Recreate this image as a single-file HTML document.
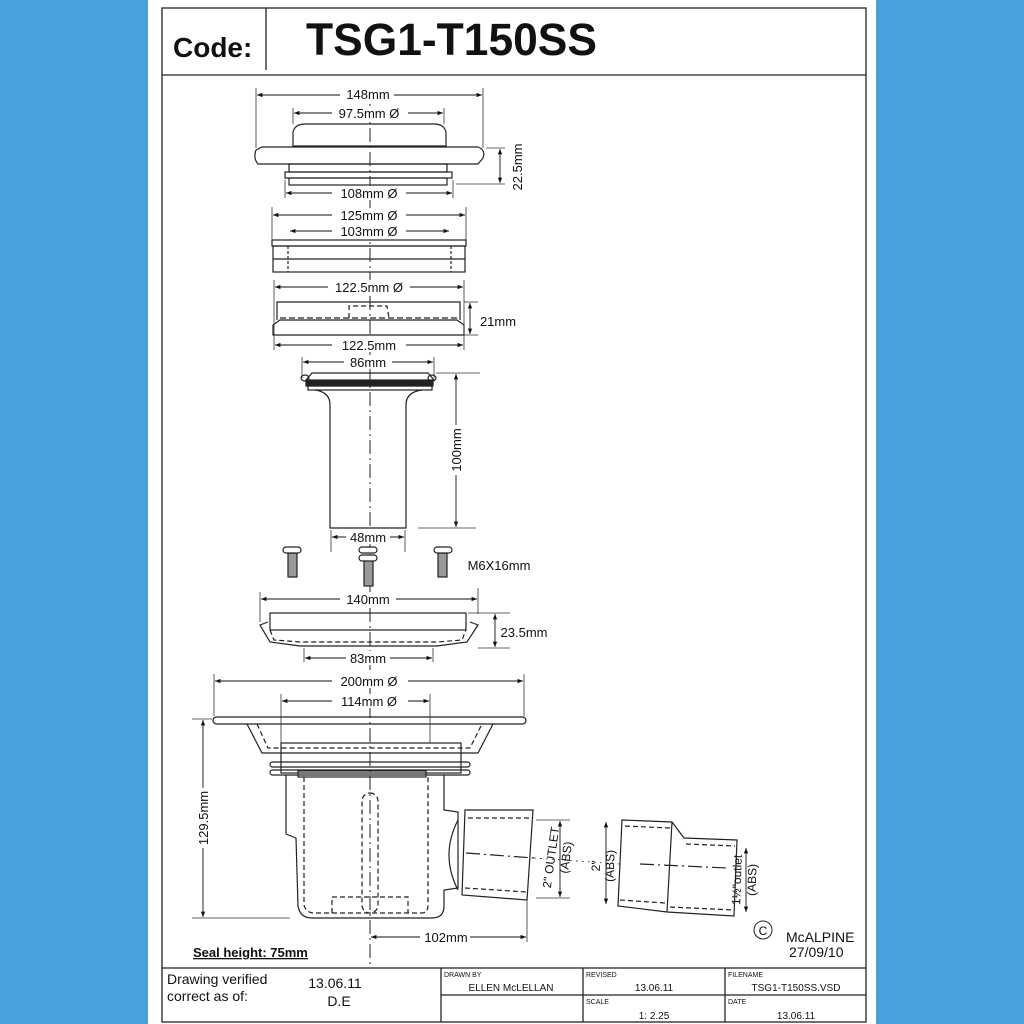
<!DOCTYPE html>
<html><head><meta charset="utf-8"><style>
html,body{margin:0;padding:0;background:#4aa0dc;}
svg{display:block}
text{font-family:"Liberation Sans",Arial,sans-serif;fill:#111}
</style></head><body>
<svg width="1024" height="1024" viewBox="0 0 1024 1024" xmlns="http://www.w3.org/2000/svg">
<defs>
<marker id="a" viewBox="0 0 10 10" refX="10" refY="5" markerWidth="9" markerHeight="6" orient="auto-start-reverse"><path d="M0,1 L10,5 L0,9z" fill="#111"/></marker>
</defs>
<rect x="0" y="0" width="1024" height="1024" fill="#4aa0dc"/>
<rect x="148" y="0" width="728" height="1024" fill="#fff"/>
<g fill="none" stroke="#222" stroke-width="1.3">
<rect x="162" y="8" width="704" height="1014"/>
<line x1="162" y1="75" x2="866" y2="75"/>
<line x1="266" y1="8" x2="266" y2="70"/>
<line x1="162" y1="968" x2="866" y2="968"/>
<line x1="441" y1="968" x2="441" y2="1022"/>
<line x1="583" y1="968" x2="583" y2="1022"/>
<line x1="725" y1="968" x2="725" y2="1022"/>
<line x1="441" y1="995" x2="866" y2="995"/>
</g>
<text x="173" y="57" font-size="28" font-weight="bold">Code:</text>
<text x="306" y="55" font-size="45" font-weight="bold" textLength="291" lengthAdjust="spacingAndGlyphs">TSG1-T150SS</text>

<line x1="370" y1="104" x2="370" y2="965" stroke="#222" stroke-width="1" stroke-dasharray="14,4,2,4"/>

<g fill="none" stroke="#222" stroke-width="1.2">
<path d="M293,146 L293,132 Q295,124 305,124 L434,124 Q444,124 446,132 L446,146 Z"/>
<path d="M258,164 Q253,158 256,150 L262,147 L478,147 Q486,150 483,158 L478,164 Z"/>
<rect x="289" y="164" width="158" height="8"/>
<rect x="285" y="172" width="167" height="6"/>
<rect x="289" y="178" width="158" height="7"/>
<rect x="272" y="240" width="194" height="6"/>
<rect x="273" y="246" width="192" height="26"/>
<line x1="273" y1="259" x2="465" y2="259"/>
<line x1="288" y1="246" x2="288" y2="272" stroke-dasharray="3,2"/>
<line x1="451" y1="246" x2="451" y2="272" stroke-dasharray="3,2"/>
<path d="M277,320 L277,302 L460,302 L460,320"/>
<path d="M273,335 L273,325 L280,320 L457,320 L464,325 L464,335 Z"/>
<line x1="280" y1="318" x2="457" y2="318" stroke-dasharray="6,3"/>
<path d="M349,318 L349,306 L387,306 L389,318" stroke-dasharray="5,3"/>
<path d="M306,380 L312,373 L428,373 L434,380"/>
<rect x="306" y="380" width="127" height="6" fill="#222"/>
<rect x="308" y="386" width="124" height="4"/>
<path d="M315,390 Q330,392 330,405 L330,528 L406,528 L406,405 Q406,392 422,390"/>
<ellipse cx="305" cy="378" rx="4" ry="3"/>
<ellipse cx="432" cy="378" rx="4" ry="3"/>
<g fill="#999"><rect x="288" y="553" width="9" height="24"/><rect x="364" y="560" width="9" height="26"/><rect x="438" y="553" width="9" height="24"/></g>
<rect x="283" y="547" width="18" height="6" rx="3" fill="#fff"/>
<rect x="359" y="547" width="18" height="6" rx="3" fill="#fff"/>
<rect x="359" y="555" width="18" height="6" rx="3" fill="#fff"/>
<rect x="434" y="547" width="18" height="6" rx="3" fill="#fff"/>
<rect x="270" y="613" width="196" height="17"/>
<path d="M268,622 L260,625 L270,642 L300,646 L437,646 L467,642 L478,625 L470,622"/>
<path d="M270,630 L274,640 L300,642 L437,642 L462,640 L466,630" stroke-dasharray="5,3"/>
<rect x="213" y="717" width="313" height="7" rx="3.5"/>
<path d="M247,724 L262,753 L478,753 L493,724"/>
<path d="M257,724 L268,748 L470,748 L482,724" stroke-dasharray="5,3"/>
<rect x="281" y="743" width="180" height="30"/>
<rect x="270" y="762" width="200" height="5" rx="2.5"/>
<rect x="270" y="770" width="200" height="5" rx="2.5"/>
<path d="M286,775 L286,834 L296,838 L298,906 Q300,918 312,918 L432,918 Q444,918 444,906 L444,890 L458,888 L458,812 L444,810 L444,775"/>
<rect x="298" y="771" width="128" height="6"/>
<path d="M304,777 L304,905 Q306,913 314,913 L422,913 Q428,913 428,905 L428,777" stroke-dasharray="5,3"/>
<rect x="362" y="793" width="16" height="120" rx="8" stroke-dasharray="5,3"/>
<path d="M332,913 L332,897 L408,897 L408,913" stroke-dasharray="5,3"/>
<path d="M458,820 Q440,855 458,890"/>
<path d="M465,810 L533,810 L527,900 L462,895 Z"/>
<path d="M468,818 L530,818 M465,888 L527,892" stroke-dasharray="5,3"/>
<line x1="466" y1="853" x2="534" y2="858" stroke-dasharray="14,4,2,4"/>
<path d="M622,820 L672,822 L684,838 L737,840 L734,916 L667,912 L618,906 Z"/>
<line x1="672" y1="822" x2="667" y2="912"/>
<path d="M625,826 L670,828 M686,844 L735,846 M620,900 L665,903 M670,907 L733,910" stroke-dasharray="5,3"/>
<line x1="640" y1="864" x2="727" y2="868" stroke-dasharray="14,4,2,4"/>
</g>

<g stroke="#333" stroke-width="0.8" fill="none">
<line x1="256" y1="88" x2="256" y2="148"/><line x1="483" y1="88" x2="483" y2="148"/>
<line x1="293" y1="108" x2="293" y2="124"/><line x1="444" y1="108" x2="444" y2="124"/>
<line x1="285" y1="180" x2="285" y2="198"/><line x1="453" y1="180" x2="453" y2="198"/>
<line x1="486" y1="148" x2="505" y2="148"/><line x1="456" y1="184" x2="505" y2="184"/>
<line x1="272" y1="207" x2="272" y2="240"/><line x1="466" y1="207" x2="466" y2="240"/>
<line x1="274" y1="280" x2="274" y2="350"/><line x1="464" y1="280" x2="464" y2="350"/>
<line x1="464" y1="302" x2="478" y2="302"/><line x1="464" y1="335" x2="478" y2="335"/>
<line x1="302" y1="357" x2="302" y2="378"/><line x1="434" y1="357" x2="434" y2="378"/>
<line x1="436" y1="373" x2="480" y2="373"/><line x1="418" y1="528" x2="476" y2="528"/>
<line x1="331" y1="530" x2="331" y2="552"/><line x1="405" y1="530" x2="405" y2="552"/>
<line x1="260" y1="592" x2="260" y2="622"/><line x1="478" y1="588" x2="478" y2="614"/>
<line x1="468" y1="613" x2="510" y2="613"/><line x1="478" y1="648" x2="510" y2="648"/>
<line x1="304" y1="648" x2="304" y2="662"/><line x1="433" y1="648" x2="433" y2="662"/>
<line x1="214" y1="674" x2="214" y2="716"/><line x1="524" y1="674" x2="524" y2="716"/>
<line x1="281" y1="694" x2="281" y2="743"/><line x1="430" y1="694" x2="430" y2="743"/>
<line x1="192" y1="719" x2="212" y2="719"/><line x1="192" y1="918" x2="290" y2="918"/>
<line x1="527" y1="900" x2="527" y2="942"/>
<line x1="536" y1="820" x2="570" y2="820"/><line x1="536" y1="898" x2="570" y2="898"/>
<line x1="534" y1="858" x2="620" y2="864" stroke-dasharray="2,4"/>
</g>
<g stroke="#111" stroke-width="0.9" marker-start="url(#a)" marker-end="url(#a)">
<line x1="257" y1="95" x2="482" y2="95"/>
<line x1="294" y1="113" x2="443" y2="113"/>
<line x1="286" y1="193" x2="452" y2="193"/>
<line x1="500" y1="149" x2="500" y2="183"/>
<line x1="273" y1="215" x2="465" y2="215"/>
<line x1="290" y1="231" x2="449" y2="231"/>
<line x1="275" y1="287" x2="463" y2="287"/>
<line x1="470" y1="303" x2="470" y2="334"/>
<line x1="275" y1="345" x2="463" y2="345"/>
<line x1="303" y1="362" x2="433" y2="362"/>
<line x1="456" y1="374" x2="456" y2="527"/>
<line x1="332" y1="537" x2="404" y2="537"/>
<line x1="261" y1="599" x2="477" y2="599"/>
<line x1="495" y1="614" x2="495" y2="647"/>
<line x1="305" y1="658" x2="432" y2="658"/>
<line x1="215" y1="681" x2="523" y2="681"/>
<line x1="282" y1="701" x2="429" y2="701"/>
<line x1="203" y1="720" x2="203" y2="917"/>
<line x1="371" y1="937" x2="526" y2="937"/>
<line x1="560" y1="821" x2="560" y2="897"/>
<line x1="606" y1="822" x2="606" y2="904"/>
<line x1="746" y1="848" x2="746" y2="912"/>
</g>
<g font-size="13" text-anchor="middle">
<rect x="340" y="87" width="54" height="14" fill="#fff"/><text x="368" y="99">148mm</text>
<rect x="332" y="106" width="76" height="14" fill="#fff"/><text x="369" y="118">97.5mm Ø</text>
<rect x="332" y="186" width="74" height="14" fill="#fff"/><text x="369" y="198">108mm Ø</text>
<text transform="translate(522,167) rotate(-90)">22.5mm</text>
<rect x="332" y="208" width="74" height="14" fill="#fff"/><text x="369" y="220">125mm Ø</text>
<rect x="332" y="224" width="74" height="14" fill="#fff"/><text x="369" y="236">103mm Ø</text>
<rect x="328" y="280" width="82" height="14" fill="#fff"/><text x="369" y="292">122.5mm Ø</text>
<text x="498" y="326">21mm</text>
<rect x="332" y="338" width="74" height="14" fill="#fff"/><text x="369" y="350">122.5mm</text>
<rect x="344" y="355" width="48" height="14" fill="#fff"/><text x="368" y="367">86mm</text>
<rect x="447" y="425" width="18" height="50" fill="#fff"/><text transform="translate(461,450) rotate(-90)">100mm</text>
<rect x="346" y="530" width="44" height="14" fill="#fff"/><text x="368" y="542">48mm</text>
<text x="499" y="570">M6X16mm</text>
<rect x="340" y="592" width="56" height="14" fill="#fff"/><text x="368" y="604">140mm</text>
<text x="524" y="637">23.5mm</text>
<rect x="346" y="651" width="44" height="14" fill="#fff"/><text x="368" y="663">83mm</text>
<rect x="332" y="674" width="76" height="14" fill="#fff"/><text x="369" y="686">200mm Ø</text>
<rect x="332" y="694" width="76" height="14" fill="#fff"/><text x="369" y="706">114mm Ø</text>
<rect x="196" y="788" width="16" height="60" fill="#fff"/><text transform="translate(208,818) rotate(-90)">129.5mm</text>
<rect x="420" y="930" width="50" height="14" fill="#fff"/><text x="446" y="942">102mm</text>
</g>
<g font-size="12" text-anchor="middle">
<text transform="translate(555,858) rotate(-82)">2" OUTLET</text>
<text transform="translate(570,858) rotate(-82)">(ABS)</text>
<text transform="translate(600,866) rotate(-88)">2"</text>
<text transform="translate(614,866) rotate(-88)">(ABS)</text>
<text transform="translate(741,880) rotate(-88)">1½"outlet</text>
<text transform="translate(756,880) rotate(-88)">(ABS)</text>
</g>
<circle cx="763" cy="930" r="9" fill="none" stroke="#222" stroke-width="1"/>
<text x="763" y="935" font-size="12" text-anchor="middle">C</text>
<text x="786" y="942" font-size="14">McALPINE</text>
<text x="789" y="957" font-size="14">27/09/10</text>
<text x="193" y="957" font-size="13" font-weight="bold" text-decoration="underline">Seal height: 75mm</text>
<text x="167" y="984" font-size="14">Drawing verified</text>
<text x="167" y="1001" font-size="14">correct as of:</text>
<text x="335" y="988" font-size="14" text-anchor="middle">13.06.11</text>
<text x="339" y="1006" font-size="14" text-anchor="middle">D.E</text>
<g font-size="7"><text x="444" y="977">DRAWN BY</text><text x="586" y="977">REVISED</text><text x="728" y="977">FILENAME</text><text x="586" y="1004">SCALE</text><text x="728" y="1004">DATE</text></g>
<g font-size="10" text-anchor="middle"><text x="511" y="991">ELLEN McLELLAN</text><text x="654" y="991">13.06.11</text><text x="796" y="991">TSG1-T150SS.VSD</text><text x="654" y="1019">1: 2.25</text><text x="796" y="1019">13.06.11</text></g>
</svg>
</body></html>
